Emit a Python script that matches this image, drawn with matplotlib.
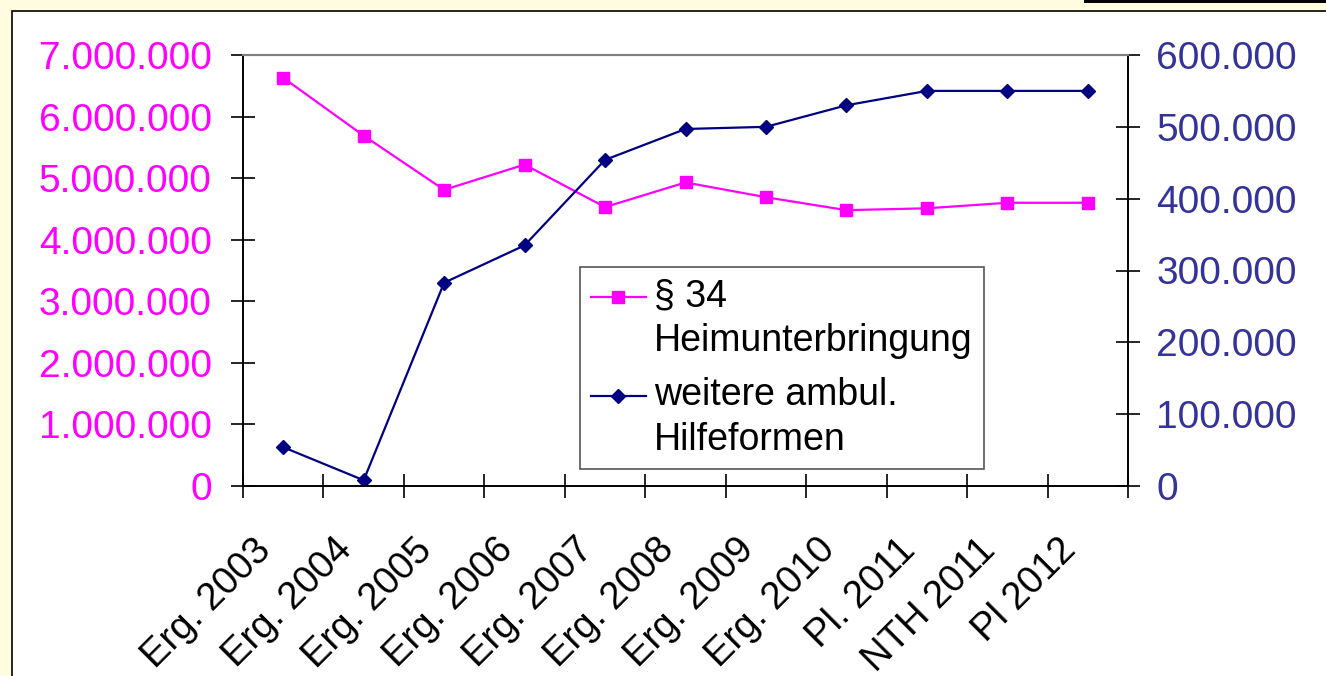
import matplotlib.pyplot as plt
from matplotlib.patches import Rectangle
from matplotlib.ticker import FuncFormatter, MultipleLocator
from matplotlib.transforms import ScaledTranslation
from matplotlib.legend_handler import HandlerLine2D

plt.rcParams['font.family'] = ['Liberation Sans', 'DejaVu Sans']

# Daten
jahre = ['Erg. 2003', 'Erg. 2004', 'Erg. 2005', 'Erg. 2006', 'Erg. 2007', 'Erg. 2008',
         'Erg. 2009', 'Erg. 2010', 'Pl. 2011', 'NTH 2011', 'Pl 2012']
heim = [6630000, 5690000, 4810000, 5220000, 4530000, 4930000,
        4690000, 4480000, 4510000, 4600000, 4600000]
ambul = [54000, 8000, 283000, 335000, 454000, 497000,
         500000, 530000, 550000, 550000, 550000]

PINK = '#FF00FF'
NAVY = '#000080'
RIGHT_TXT = '#333399'


class TopLineHandler(HandlerLine2D):
    # Legendensymbol auf Hoehe der ersten Textzeile (wie in Excel)
    def __init__(self, dy, **kw):
        super().__init__(**kw)
        self.dy = dy

    def create_artists(self, legend, orig_handle, xdescent, ydescent, width, height, fontsize, trans):
        return super().create_artists(legend, orig_handle, xdescent, ydescent - 2 * self.dy,
                                      width, height, fontsize, trans)


W, H = 1326, 676
fig = plt.figure(figsize=(W / 100, H / 100), dpi=100, facecolor='#FFFCDF')

# weisses Panel
fig.patches.append(Rectangle((12 / W, -0.01), 1.01, 1 - 11 / H + 0.01, transform=fig.transFigure,
                             facecolor='white', edgecolor='black', linewidth=1.2, zorder=-5))
fig.patches.append(Rectangle((1084 / W, 1 - 3 / H), 1, 0.01, transform=fig.transFigure,
                             facecolor='black', edgecolor='none', zorder=-4))

ax = fig.add_axes([243 / W, 1 - 486 / H, (1128 - 243) / W, (486 - 55) / H])
ax.set_facecolor('white')
ax2 = ax.twinx()

x = list(range(len(jahre)))
l1, = ax.plot(x, heim, color=PINK, marker='s', markersize=8.5, linewidth=1.6,
              label='§ 34\nHeimunterbringung')
l2, = ax2.plot(x, ambul, color=NAVY, marker='D', markersize=7.5, linewidth=1.6,
               label='weitere ambul.\nHilfeformen')

ax.set_xlim(-0.5, len(jahre) - 0.5)
ax.set_ylim(0, 7000000)
ax2.set_ylim(0, 600000)

fmt = FuncFormatter(lambda v, p: f'{int(v):,}'.replace(',', '.'))
ax.yaxis.set_major_locator(MultipleLocator(1000000))
ax.yaxis.set_major_formatter(fmt)
ax2.yaxis.set_major_locator(MultipleLocator(100000))
ax2.yaxis.set_major_formatter(fmt)

ax.tick_params(axis='y', direction='inout', length=17, width=1.2, colors='black',
               labelcolor=PINK, labelsize=28, pad=14)
ax2.tick_params(axis='y', direction='inout', length=17, width=1.2, colors='black',
                labelcolor=RIGHT_TXT, labelsize=28, pad=12)

ax.set_xticks(x)
ax.set_xticklabels(jahre, rotation=45, ha='right', va='top', rotation_mode='anchor', fontsize=27.5)
ax.tick_params(axis='x', which='major', length=0, pad=33)
ax.set_xticks([i - 0.5 for i in range(len(jahre) + 1)], minor=True)
ax.tick_params(axis='x', which='minor', direction='inout', length=17, width=1.2)
shift = ScaledTranslation(-0.30, 0, fig.dpi_scale_trans)
for lab in ax.get_xticklabels():
    lab.set_transform(lab.get_transform() + shift)

for a in (ax, ax2):
    a.spines['top'].set_color('#808080')
    a.spines['top'].set_linewidth(1.5)
    a.spines['left'].set_linewidth(1.2)
    a.spines['right'].set_linewidth(1.2)
    a.spines['bottom'].set_linewidth(1.2)

leg = ax2.legend(handles=[l1, l2], loc='upper left', bbox_to_anchor=(580 / W, 1 - 267 / H),
                 bbox_transform=fig.transFigure, fontsize=27, fancybox=False,
                 edgecolor='#555555', framealpha=1, handlelength=1.45, handletextpad=0.22,
                 labelspacing=0.5, borderpad=0.3, borderaxespad=0,
                 handler_map={l1: TopLineHandler(16), l2: TopLineHandler(16)})
leg.get_frame().set_linewidth(1.2)
for t in leg.get_texts():
    t.set_linespacing(1.3)

plt.savefig('out.png', dpi=100, facecolor=fig.get_facecolor())
